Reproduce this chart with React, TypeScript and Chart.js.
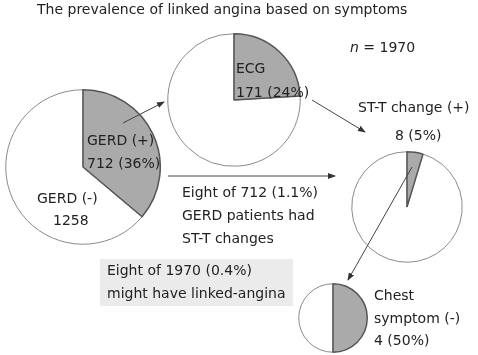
import React, { useEffect, useRef } from "react";
import { Chart, registerables } from "chart.js";
Chart.register(...registerables);

// Data
const pieNames = ["GERD", "ECG", "ST-T change", "Chest symptom"];
const gerdValues = [1258, 712]; // [GERD (-), GERD (+)]
const ecgValues = [541, 171]; // [no ECG, ECG]
const sttValues = [163, 8]; // [no change, ST-T change (+)]
const chestValues = [4, 4]; // [chest symptom (+), chest symptom (-)]

const FONT = "'DejaVu Sans', Verdana, sans-serif";

type PieProps = { values: number[]; cx: number; cy: number; r: number };

function Pie({ values, cx, cy, r }: PieProps) {
  const ref = useRef<HTMLCanvasElement | null>(null);
  const size = 2 * r + 4;
  useEffect(() => {
    if (!ref.current) return;
    const total = values[0] + values[1];
    const rot = (360 * values[1]) / total;
    const chart = new Chart(ref.current, {
      type: "pie",
      data: {
        labels: ["rest", "highlight"],
        datasets: [
          {
            data: values,
            backgroundColor: ["#ffffff", "#aaaaaa"],
            borderColor: ["#8a8a8a", "#555555"],
            borderWidth: [1, 1.5],
          },
        ],
      },
      options: {
        animation: false,
        responsive: false,
        rotation: rot,
        layout: { padding: 0 },
        plugins: { legend: { display: false }, tooltip: { enabled: false } },
        events: [],
      },
    });
    return () => chart.destroy();
  }, []);
  return (
    <canvas
      ref={ref}
      width={size}
      height={size}
      style={{ position: "absolute", left: cx - r - 2, top: cy - r - 2, width: size, height: size }}
    />
  );
}

function T({ x, y, children, style }: { x: number; y: number; children: React.ReactNode; style?: React.CSSProperties }) {
  return (
    <div
      style={{
        position: "absolute",
        left: x,
        top: y - 3,
        fontFamily: FONT,
        fontSize: 14,
        lineHeight: "16px",
        color: "#222",
        whiteSpace: "nowrap",
        ...style,
      }}
    >
      {children}
    </div>
  );
}

export default function App() {
  useEffect(() => {
    document.body.style.margin = "0";
  }, []);
  return (
    <div style={{ position: "relative", width: 478, height: 355, background: "#fff", overflow: "hidden" }}>
      <div
        style={{ position: "absolute", left: 100, top: 259, width: 193, height: 47, background: "#ebebeb" }}
      />
      <Pie values={gerdValues} cx={83} cy={167} r={76} />
      <Pie values={ecgValues} cx={234} cy={100} r={65} />
      <Pie values={sttValues} cx={407} cy={207} r={54} />
      <Pie values={chestValues} cx={333} cy={318} r={33} />
      <svg width={478} height={355} style={{ position: "absolute", left: 0, top: 0 }}>
        <defs>
          <marker id="ah" markerWidth="8" markerHeight="6" refX="7" refY="3" orient="auto" markerUnits="userSpaceOnUse">
            <path d="M0,0 L8,3 L0,6 Z" fill="#333" />
          </marker>
        </defs>
        <line x1={123} y1={123} x2={164} y2={102} stroke="#444" strokeWidth={1} markerEnd="url(#ah)" />
        <line x1={312} y1={100} x2={365} y2={132} stroke="#444" strokeWidth={1} markerEnd="url(#ah)" />
        <line x1={168} y1={176} x2={335} y2={176} stroke="#444" strokeWidth={1} markerEnd="url(#ah)" />
        <line x1={412} y1={167} x2={348} y2={280} stroke="#444" strokeWidth={1} markerEnd="url(#ah)" />
      </svg>
      <T x={37} y={4}>The prevalence of linked angina based on symptoms</T>
      <T x={350} y={42}>
        <i>n</i> = 1970
      </T>
      <T x={87} y={135}>GERD (+)</T>
      <T x={87} y={158}>712 (36%)</T>
      <T x={37} y={193}>GERD (-)</T>
      <T x={53} y={215}>1258</T>
      <T x={236} y={63}>ECG</T>
      <T x={236} y={87}>171 (24%)</T>
      <T x={358} y={102}>ST-T change (+)</T>
      <T x={395} y={130}>8 (5%)</T>
      <T x={182} y={187}>Eight of 712 (1.1%)</T>
      <T x={182} y={210}>GERD patients had</T>
      <T x={182} y={233}>ST-T changes</T>
      <T x={107} y={265}>Eight of 1970 (0.4%)</T>
      <T x={107} y={288}>might have linked-angina</T>
      <T x={374} y={290}>Chest</T>
      <T x={374} y={313}>symptom (-)</T>
      <T x={374} y={335}>4 (50%)</T>
    </div>
  );
}
